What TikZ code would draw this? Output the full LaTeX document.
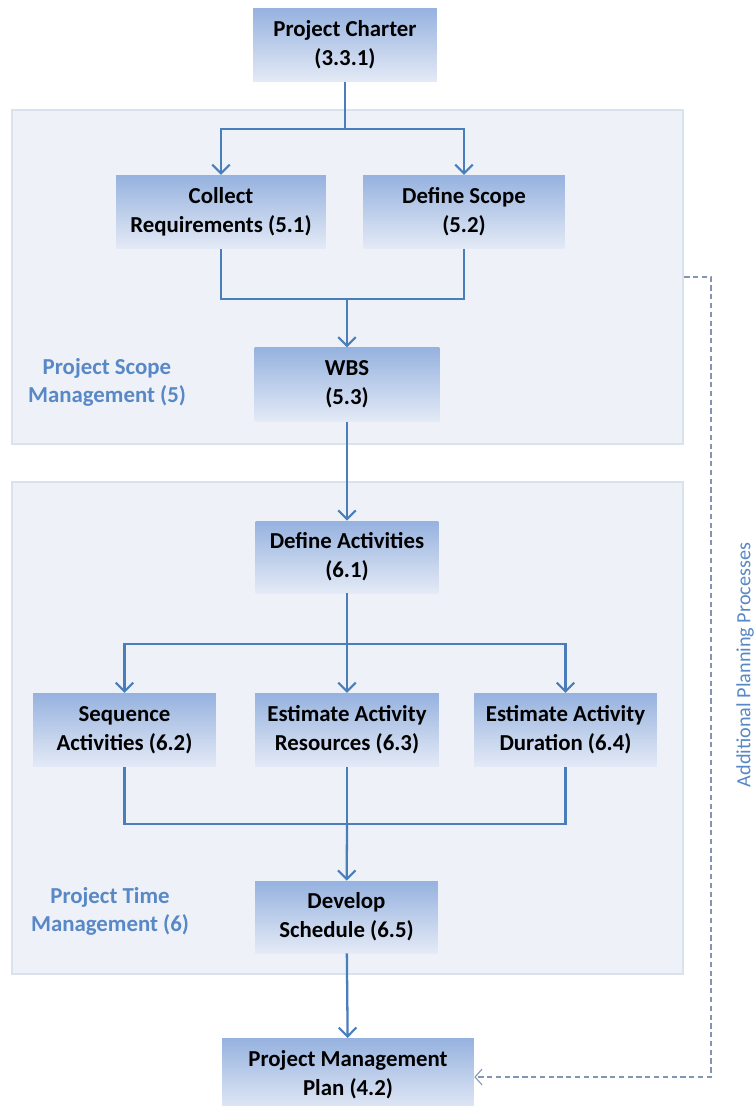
\documentclass[tikz,border=0pt]{standalone}
\usepackage{fontspec}
\setmainfont{Carlito}
\usepackage{tikz,xcolor}
\usetikzlibrary{arrows.meta}

\definecolor{flowline}{RGB}{74,126,187}
\definecolor{boxtop}{RGB}{150,178,223}
\definecolor{boxbottom}{RGB}{228,234,246}
\definecolor{areafill}{RGB}{238,242,248}
\definecolor{areaedge}{RGB}{218,226,238}
\definecolor{labelblue}{RGB}{88,136,198}
\definecolor{dashgray}{RGB}{130,150,180}

\begin{document}
\begin{tikzpicture}[x=0.02cm, y=-0.02cm,
  procbox/.style={top color=boxtop, bottom color=boxbottom, minimum height=1.47cm,
    align=center, font=\bfseries\fontsize{13}{16.5}\selectfont, inner sep=2pt},
  area/.style={fill=areafill, draw=areaedge, line width=1.5pt, minimum width=13.42cm},
  grouplabel/.style={align=center, text=labelblue, font=\bfseries\fontsize{13}{16}\selectfont},
  flow/.style={draw=flowline, line width=1.3pt},
  flowarrow/.style={flow, -{Straight Barb[length=5pt,width=10pt,line width=1.2pt]}},
  dashline/.style={draw=dashgray, line width=0.6pt, dash pattern=on 3pt off 2pt,
    -{Straight Barb[length=4pt,width=9pt,line width=0.6pt]}}]

\useasboundingbox (0,0) rectangle (756,1106);

% areas
\node[area, minimum height=6.68cm] (scopearea) at (347.5,277) {};
\node[area, minimum height=9.84cm] (timearea) at (347.5,728) {};

% process boxes
\node[procbox, minimum width=3.68cm] (charter) at (345,45) {Project Charter\\(3.3.1)};
\node[procbox, minimum width=4.2cm] (collect) at (221,212) {Collect\\Requirements (5.1)};
\node[procbox, minimum width=4.04cm] (defscope) at (464,212) {Define Scope\\(5.2)};
\node[procbox, minimum width=3.7cm] (wbs) at (347,384.5) {WBS\\(5.3)};
\node[procbox, minimum width=3.66cm, minimum height=1.44cm] (defact) at (347,557) {Define Activities\\(6.1)};
\node[procbox, minimum width=3.66cm] (seqact) at (124.5,730) {Sequence\\Activities (6.2)};
\node[procbox, minimum width=3.68cm] (estres) at (347,730) {Estimate Activity\\Resources (6.3)};
\node[procbox, minimum width=3.66cm] (estdur) at (565.5,730) {Estimate Activity\\Duration (6.4)};
\node[procbox, minimum width=3.66cm, minimum height=1.44cm] (devsched) at (346.5,917) {Develop\\Schedule (6.5)};
\node[procbox, minimum width=5.04cm] (pmplan) at (348,1075) {Project Management\\Plan (4.2)};

% area labels
\node[grouplabel] (scopelabel) at (107,382) {Project Scope\\Management (5)};
\node[grouplabel] (timelabel) at (110,911) {Project Time\\Management (6)};
\node[rotate=90, text=labelblue, font=\fontsize{11.5}{14}\selectfont] (addlabel) at (745,665) {Additional Planning Processes};

% junctions
\coordinate (split1) at (345,129);
\coordinate (merge1) at (347,299);
\coordinate (split2) at (347,644);
\coordinate (merge2) at (347,824);
\coordinate (dashturn) at (711,1077);

% connectors
\draw[flow] (charter) -- (split1);
\draw[flowarrow] (split1) -| (collect);
\draw[flowarrow] (split1) -| (defscope);
\draw[flow] (collect) |- (merge1);
\draw[flow] (defscope) |- (merge1);
\draw[flowarrow] (merge1) -- (wbs);
\draw[flowarrow] (wbs) -- (defact);
\draw[flow] (defact) -- (split2);
\draw[flowarrow] (split2) -| (seqact);
\draw[flowarrow] (split2) -- (estres);
\draw[flowarrow] (split2) -| (estdur);
\draw[flow] (seqact) |- (merge2);
\draw[flow] (estdur) |- (merge2);
\draw[flow] (estres) -- (merge2);
\draw[flowarrow] (merge2) -- (devsched);
\draw[flowarrow] (devsched) -- (pmplan);
\draw[dashline] (scopearea.east) -| (dashturn) -- (pmplan.east |- dashturn);

\end{tikzpicture}
\end{document}
